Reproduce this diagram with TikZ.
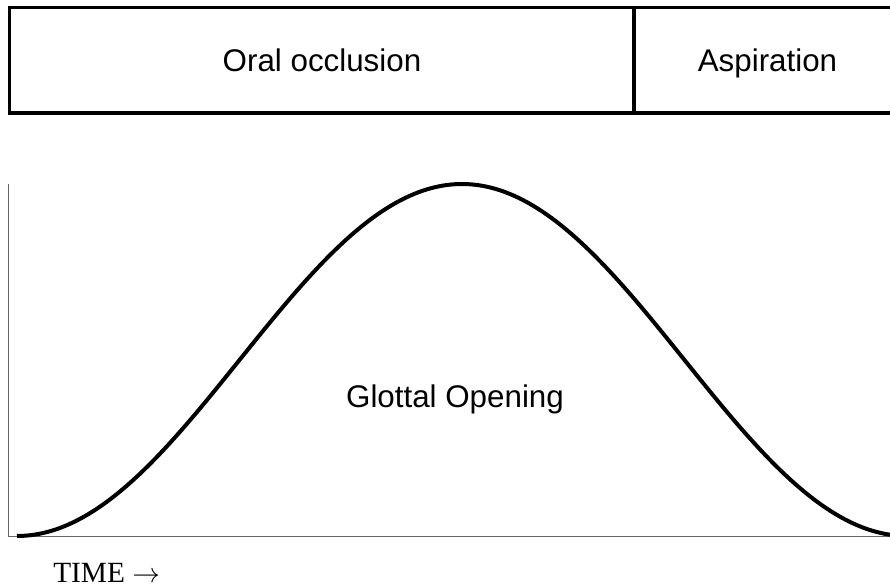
\documentclass[tikz,border=0pt]{standalone}
\usepackage{fontspec}
\setmainfont{Liberation Serif}
\newfontfamily\arialfont{Liberation Sans}
\begin{document}
\begin{tikzpicture}[x=0.75pt,y=-0.75pt,
  boxline/.style={line width=2.5pt,black},
  axisline/.style={line width=1pt,gray!80!black},
  curveline/.style={line width=3pt,black},
  lbl/.style={font=\arialfont\fontsize{23.5}{28}\selectfont,anchor=base,inner sep=0pt},
  timelbl/.style={font=\fontsize{22}{26}\selectfont,anchor=base west,inner sep=0pt}]
\useasboundingbox (0,0) rectangle (890,588);
% top box
\draw[boxline] (890,7.5) -- (9.5,7.5) -- (9.5,113) -- (890,113);
\draw[boxline] (634,7.5) -- (634,113);
\node[lbl] (oral) at (322,72) {Oral occlusion};
\node[lbl] (asp) at (767.5,72) {Aspiration};
% axes
\draw[axisline] (8.5,184) -- (8.5,536.5) -- (890,536.5);
% curve
\draw[curveline] plot[domain=17:890,samples=200,smooth] (\x,{536-176*(1-cos(0.404494*(\x-17)))});
\node[lbl] (glot) at (455,407) {Glottal Opening};
\node[timelbl] (time) at (53,582) {TIME $\rightarrow$};
\end{tikzpicture}
\end{document}
